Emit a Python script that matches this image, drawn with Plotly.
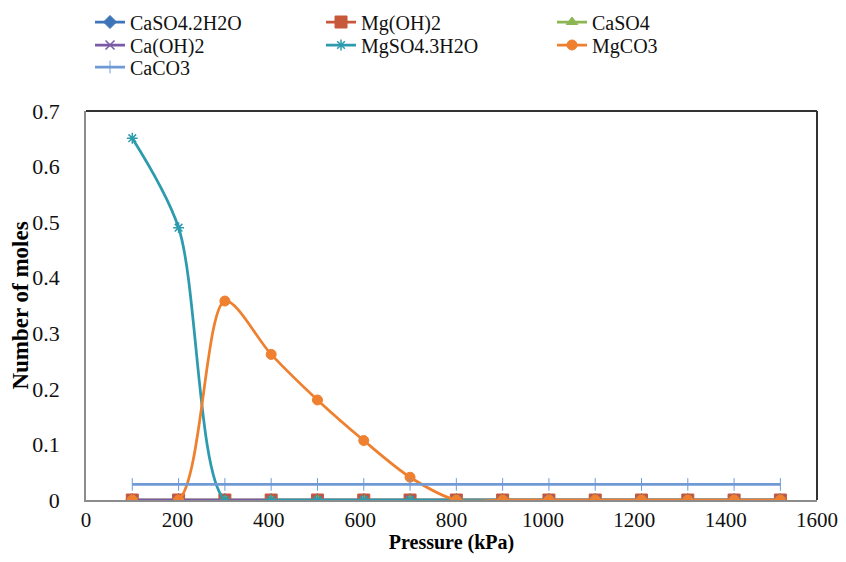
import plotly.graph_objects as go

atm = list(range(1, 16))
pressure_kpa = [101.325 * a for a in atm]

caso4_2h2o = [0] * 15
mg_oh_2 = [0] * 15
caso4 = [0] * 15
ca_oh_2 = [0] * 15
mgso4_3h2o = [0.651, 0.49, 0, 0, 0, 0, 0, 0, 0, 0, 0, 0, 0, 0, 0]
mgco3 = [0, 0, 0.358, 0.262, 0.18, 0.107, 0.041, 0, 0, 0, 0, 0, 0, 0, 0]
caco3 = [0.028] * 15

# name, values, colour, marker, size, marker line width, legend row
series = [
    ("CaSO4.2H2O", caso4_2h2o, "#3E75B8", "diamond", 10, 1, "legend"),
    ("Mg(OH)2", mg_oh_2, "#C8583A", "square", 12, 1, "legend"),
    ("CaSO4", caso4, "#8CB652", "triangle-up", 10, 1, "legend"),
    ("Ca(OH)2", ca_oh_2, "#7A5AA6", "x-thin-open", 9, 1.5, "legend2"),
    ("MgSO4.3H2O", mgso4_3h2o, "#2C9BAE", "asterisk-open", 9, 1.5, "legend2"),
    ("MgCO3", mgco3, "#EE8030", "circle", 10, 1, "legend2"),
    ("CaCO3", caco3, "#6F9AD6", "line-ns-open", 9, 1, "legend3"),
]

fig = go.Figure()
for name, vals, color, sym, size, mlw, leg in series:
    fig.add_trace(go.Scatter(
        x=pressure_kpa, y=vals, name=name, mode="lines+markers", legend=leg,
        line=dict(color=color, width=2.75, shape="spline", smoothing=0.85),
        marker=dict(symbol=sym, size=size, color=color,
                    line=dict(color=color, width=mlw)),
    ))

font_family = "Liberation Serif, Times New Roman, serif"

# page body has an 8px margin: figure is sized/offset to compensate
W, H = 838, 546
ML, MR, MT, MB = 78, 29, 103, 54
plot_h = H - MT - MB


def leg_y(fig_y):
    return 1 + (MT - fig_y) / plot_h


def legend_cfg(fy):
    return dict(
        orientation="h", x=0.0055, xanchor="left", y=leg_y(fy), yanchor="middle",
        entrywidth=186, entrywidthmode="pixels",
        font=dict(family=font_family, size=20, color="#111111"),
        tracegroupgap=0, itemwidth=30, bgcolor="rgba(0,0,0,0)",
    )


fig.update_layout(
    width=W, height=H,
    margin=dict(l=ML, r=MR, t=MT, b=MB, autoexpand=False),
    paper_bgcolor="white", plot_bgcolor="white",
    font=dict(family=font_family, size=21, color="black"),
    showlegend=True,
    legend=legend_cfg(14),
    legend2=legend_cfg(37),
    legend3=legend_cfg(59),
    xaxis=dict(
        range=[0, 1600], dtick=200, tick0=0, showgrid=False, zeroline=False,
        showline=True, linecolor="#8C8C8C", linewidth=1.5,
        ticks="", ticklabelstandoff=0,
        tickfont=dict(family=font_family, size=21, color="#111111"),
        title=dict(text="<b>Pressure (kPa)</b>", standoff=5,
                   font=dict(family=font_family, size=20)),
    ),
    yaxis=dict(
        range=[0, 0.7], dtick=0.1, tick0=0, showgrid=False, zeroline=False,
        showline=True, linecolor="#8C8C8C", linewidth=1.5,
        ticks="", ticklabelstandoff=20,
        tickfont=dict(family=font_family, size=22, color="#111111"),
        title=dict(text="<b>Number of moles</b>", standoff=12,
                   font=dict(family=font_family, size=23)),
    ),
    shapes=[
        dict(type="line", xref="paper", yref="paper", x0=0, x1=1, y0=1, y1=1,
             line=dict(color="#333333", width=2)),
        dict(type="line", xref="paper", yref="paper", x0=1, x1=1, y0=0, y1=1,
             line=dict(color="#333333", width=2)),
    ],
)

fig.write_html("out.html")
